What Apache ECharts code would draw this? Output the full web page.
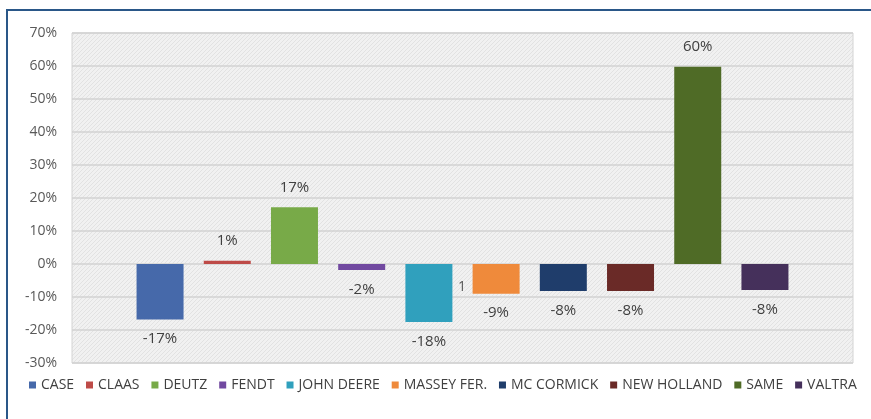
<!DOCTYPE html>
<html>
<head>
<meta charset="utf-8">
<script src="https://cdn.jsdelivr.net/npm/echarts@6/dist/echarts.min.js"></script>
<style>
  * { padding: 0; margin: 0; }
  html, body { width: 871px; height: 419px; overflow: hidden; background: #fff; }
  .frame {
    position: absolute; left: 6px; top: 9px; width: 900px; height: 450px;
    border-top: 2px solid #2a5788; border-left: 2px solid #2a5788;
  }
  #chart { position: absolute; left: 0; top: 0; width: 871px; height: 419px; }
</style>
</head>
<body>
<div class="frame"></div>
<div id="chart"></div>
<script>
// brands and change vs previous year (%)
const brands = ['CASE', 'CLAAS', 'DEUTZ', 'FENDT', 'JOHN DEERE', 'MASSEY FER.', 'MC CORMICK', 'NEW HOLLAND', 'SAME', 'VALTRA']
const changes = [-16.8, 1, 17.2, -1.8, -17.6, -9, -8.2, -8.2, 59.8, -7.9]
const colors = ['#4669aa', '#be4b48', '#78aa48', '#7149a0', '#30a0bd', '#ef8a3b', '#1f3d6b', '#6a2a27', '#4f6b26', '#45305b']
const yTicks = { min: -30, max: 70, step: 10 }

// fine diagonal hatch for the plot background
const makeHatch = () => {
  const c = document.createElement('canvas')
  c.width = 4
  c.height = 4
  const ctx = c.getContext('2d')
  ctx.fillStyle = '#f1f1f1'
  ctx.fillRect(0, 0, 4, 4)
  ctx.fillStyle = '#e2e2e2'
  for (let i = 0; i < 4; i++) ctx.fillRect(i, 3 - i, 1, 1)
  return c
}

const chart = echarts.init(document.getElementById('chart'))
chart.setOption({
  animation: false,
  textStyle: { fontFamily: 'Open Sans' },
  grid: {
    left: 72, right: 18, top: 33, bottom: 56,
    show: true,
    backgroundColor: { image: makeHatch(), repeat: 'repeat' },
    borderColor: '#d4d4d4',
    borderWidth: 1
  },
  legend: {
    bottom: 22,
    left: 24,
    itemWidth: 7,
    itemHeight: 7,
    itemGap: 11.9,
    icon: 'rect',
    textStyle: { color: '#404040', fontSize: 14, fontFamily: 'Open Sans' },
    data: brands
  },
  xAxis: {
    type: 'category',
    data: [''],
    axisLine: { show: false },
    axisTick: { show: false },
    axisLabel: { show: false }
  },
  yAxis: {
    type: 'value',
    min: yTicks.min,
    max: yTicks.max,
    interval: yTicks.step,
    axisLabel: {
      formatter: '{value}%',
      color: '#595959',
      fontSize: 14,
      margin: 15
    },
    splitLine: { lineStyle: { color: '#d2d2d2', width: 1.5 } }
  },
  graphic: [{
    type: 'text',
    left: 458,
    top: 280,
    style: { text: '1', fill: '#595959', font: '14px "Open Sans"' }
  }],
  series: brands.map((name, i) => ({
    name: name,
    type: 'bar',
    data: [changes[i]],
    barWidth: 47,
    barGap: '43%',
    itemStyle: { color: colors[i] },
    label: {
      show: true,
      position: 'outside',
      distance: 12,
      color: '#404040',
      fontSize: 15,
      formatter: p => Math.round(p.value) + '%'
    }
  }))
})
</script>
</body>
</html>
